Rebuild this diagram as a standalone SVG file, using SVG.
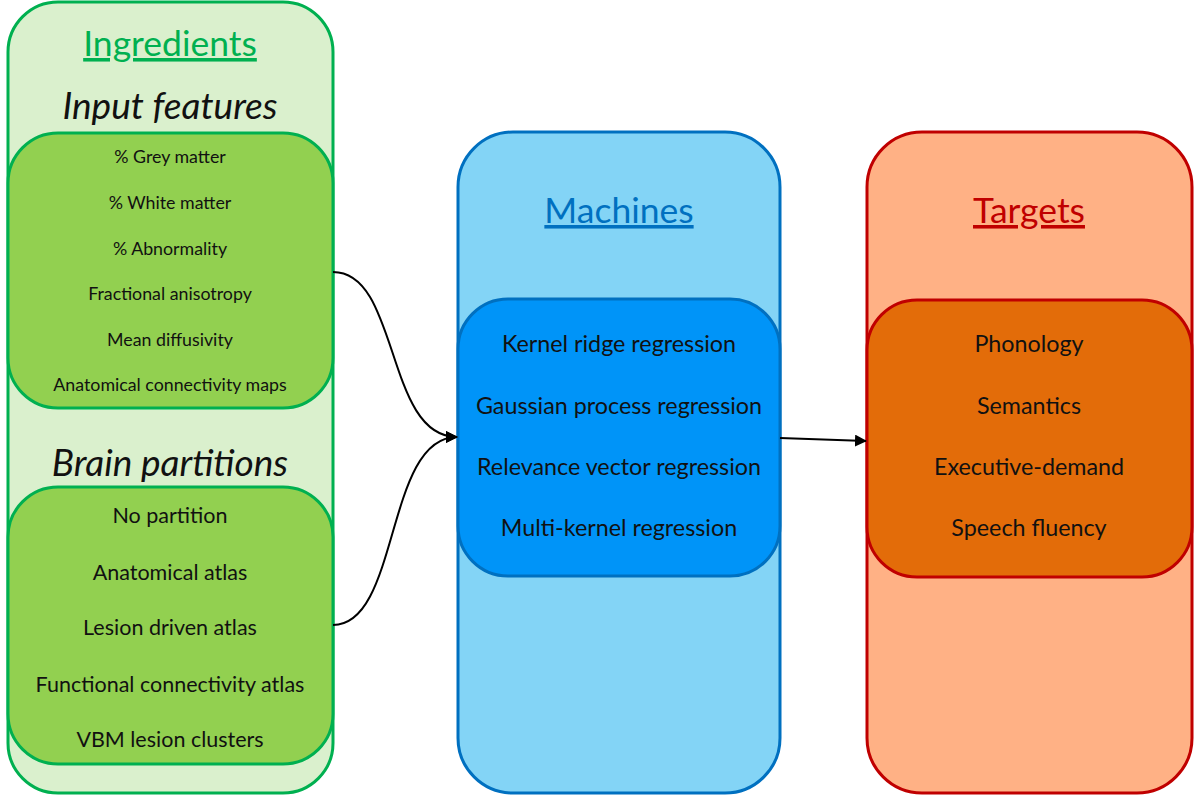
<svg xmlns="http://www.w3.org/2000/svg" width="1200" height="796" viewBox="0 0 1200 796">
<defs>
<marker id="ah" markerWidth="12" markerHeight="12" refX="11" refY="6" orient="auto" markerUnits="userSpaceOnUse">
<path d="M0,0 L12,6 L0,12 Z" fill="#000"/>
</marker>
<style>
text{font-family:Lato,"Open Sans","Liberation Sans",sans-serif;text-anchor:middle;fill:#111}
.hd{font-size:35.5px;text-decoration:underline}
.sub{font-size:37px;font-style:italic}
.sm{font-size:17.8px}
.md{font-size:21.5px}
.lg{font-size:23.3px}
.con{fill:none;stroke:#000;stroke-width:2}
</style>
</defs>
<rect width="1200" height="796" fill="#fff"/>
<g id="ingredients">
<rect x="8" y="2" width="325" height="791" rx="50" fill="#DAF0CD" stroke="#00B050" stroke-width="3"/>
<text class="hd" x="170" y="56" style="fill:#00B050">Ingredients</text>
<text class="sub" x="170" y="119">Input features</text>
<text class="sub" x="170" y="476">Brain partitions</text>
</g>
<g id="input-features">
<rect x="8" y="133" width="325" height="275" rx="50" fill="#92D050" stroke="#00B050" stroke-width="3"/>
<text class="sm" x="170" y="163">% Grey matter</text>
<text class="sm" x="170" y="209">% White matter</text>
<text class="sm" x="170" y="255">% Abnormality</text>
<text class="sm" x="170" y="300">Fractional anisotropy</text>
<text class="sm" x="170" y="346">Mean diffusivity</text>
<text class="sm" x="170" y="391">Anatomical connectivity maps</text>
</g>
<g id="brain-partitions">
<rect x="8" y="487" width="325" height="277" rx="50" fill="#92D050" stroke="#00B050" stroke-width="3"/>
<text class="md" x="170" y="523">No partition</text>
<text class="md" x="170" y="580">Anatomical atlas</text>
<text class="md" x="170" y="635">Lesion driven atlas</text>
<text class="md" x="170" y="692">Functional connectivity atlas</text>
<text class="md" x="170" y="747">VBM lesion clusters</text>
</g>
<g id="machines">
<rect x="458" y="132" width="322" height="661" rx="55" fill="#83D4F6" stroke="#0070C0" stroke-width="3"/>
<text class="hd" x="619" y="223" style="fill:#0070C0">Machines</text>
</g>
<g id="machines-list">
<rect x="458" y="299" width="322" height="277" rx="50" fill="#0094F8" stroke="#0070C0" stroke-width="3"/>
<text class="lg" x="619" y="352">Kernel ridge regression</text>
<text class="lg" x="619" y="414">Gaussian process regression</text>
<text class="lg" x="619" y="475">Relevance vector regression</text>
<text class="lg" x="619" y="536">Multi-kernel regression</text>
</g>
<g id="targets">
<rect x="867" y="132" width="325" height="661" rx="55" fill="#FFB185" stroke="#C00000" stroke-width="3"/>
<text class="hd" x="1029" y="223" style="fill:#C00000">Targets</text>
</g>
<g id="targets-list">
<rect x="867" y="300" width="325" height="277" rx="50" fill="#E36C09" stroke="#C00000" stroke-width="3"/>
<text class="lg" x="1029" y="352">Phonology</text>
<text class="lg" x="1029" y="414">Semantics</text>
<text class="lg" x="1029" y="475">Executive-demand</text>
<text class="lg" x="1029" y="536">Speech fluency</text>
</g>
<g id="connectors">
<path class="con" d="M333,272 C400,272 385,437 457,437" marker-end="url(#ah)"/>
<path class="con" d="M333,625 C400,625 385,437 457,437" marker-end="url(#ah)"/>
<path class="con" d="M780,438 L866,441" marker-end="url(#ah)"/>
</g>
</svg>
